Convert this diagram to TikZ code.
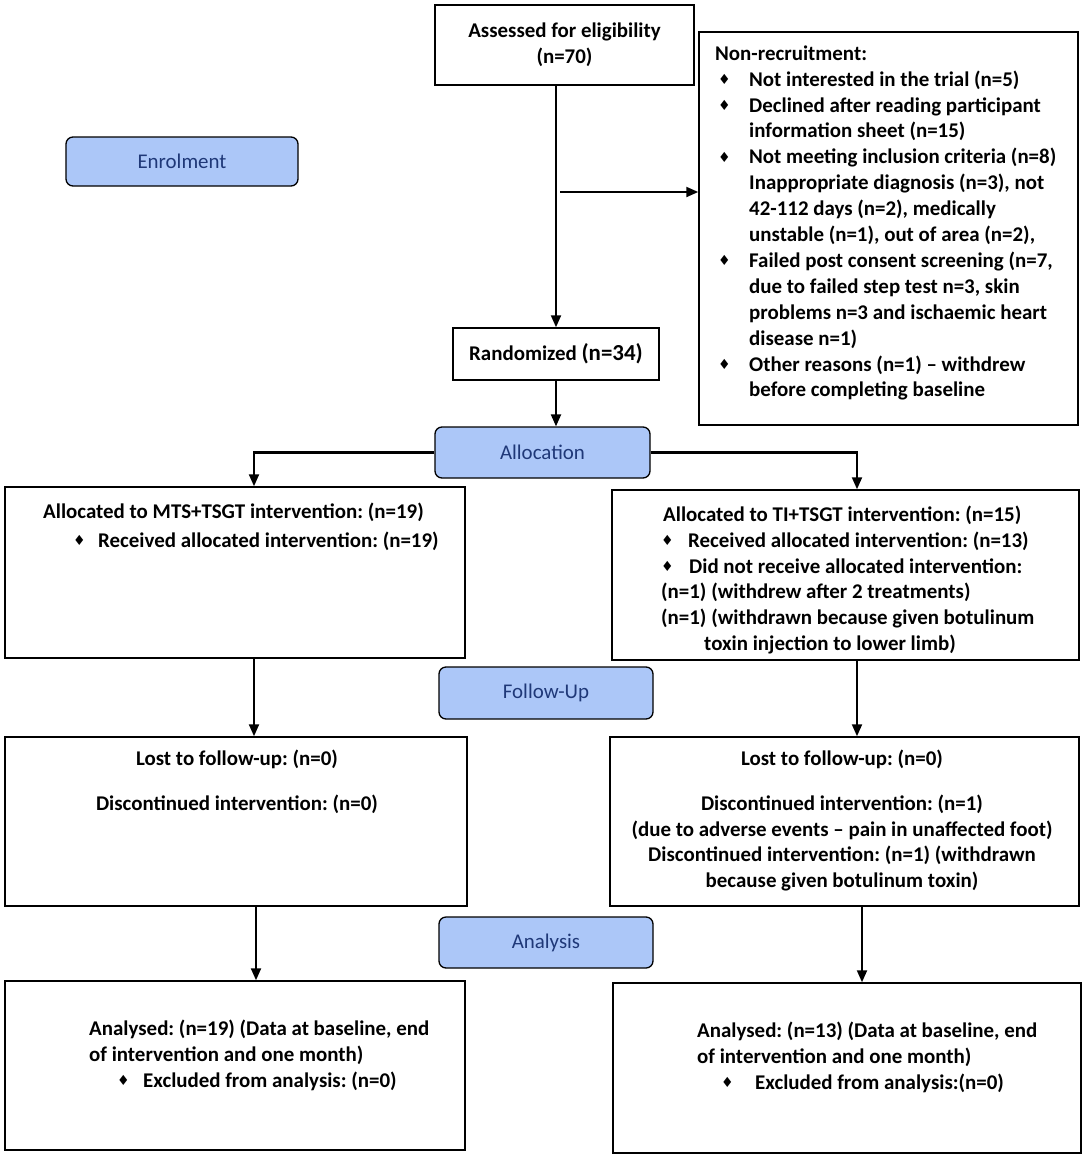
\documentclass[tikz,border=0pt]{standalone}
\usepackage{fontspec}
\setmainfont{Carlito}
\newfontfamily\dejavu{DejaVu Sans}
\usetikzlibrary{arrows.meta}
\definecolor{stagefill}{RGB}{172,199,248}
\definecolor{stagetext}{RGB}{31,56,120}
\newcommand\bul{\raisebox{1.5bp}{\dejavu\fontsize{14}{14}\selectfont ♦}}
\newcommand\fst{\rule{0pt}{16bp}}
\frenchspacing
\begin{document}
\begin{tikzpicture}[x=1bp,y=-1bp,
  box/.style={draw=black, line width=1.5bp, fill=white, inner sep=0pt},
  stage/.style={draw=black, line width=1.3bp, rounded corners=7bp, fill=stagefill,
    text=stagetext, font=\fontsize{21}{26}\selectfont, inner sep=0pt},
  txt/.style={font=\bfseries\fontsize{21}{26}\selectfont, inner sep=0pt},
  arr/.style={-{Triangle[length=12bp,width=10bp]}, line width=2.1bp}]
\useasboundingbox (0,0) rectangle (1084,1156);

% boxes
\node[box, minimum width=259bp, minimum height=80bp, txt, align=center] (assess) at (564.5,45)
  {Assessed for eligibility\\(n=70)};
\node[box, minimum width=379bp, minimum height=393bp] (nonrec) at (888.5,228.5) {};
\node[box, minimum width=206bp, minimum height=52bp, txt] (rand) at (556,354)
  {Randomized {\fontsize{23}{26}\selectfont(n=34)}};
\node[box, minimum width=460bp, minimum height=171bp] (b1L) at (235,572.5) {};
\node[box, minimum width=467bp, minimum height=170bp] (b1R) at (845.5,575) {};
\node[box, minimum width=462bp, minimum height=169bp] (b2L) at (236,821.5) {};
\node[box, minimum width=469bp, minimum height=169bp] (b2R) at (844.5,821.5) {};
\node[box, minimum width=460bp, minimum height=169bp] (b3L) at (235,1065.5) {};
\node[box, minimum width=468bp, minimum height=170bp] (b3R) at (847,1068) {};

% stage labels
\node[stage, minimum width=232bp, minimum height=49bp] (enrol) at (182,161.5) {Enrolment};
\node[stage, minimum width=215bp, minimum height=51bp] (alloc) at (542.5,452.5) {Allocation};
\node[stage, minimum width=214bp, minimum height=52bp] (follow) at (546,693) {Follow-Up};
\node[stage, minimum width=214bp, minimum height=51bp] (analysis) at (546,942.5) {Analysis};

% texts
\node[txt, anchor=north west, align=left] (nrtext) at (715,44) {\fst Non-recruitment:\\
\hspace*{3bp}\makebox[31bp][l]{\bul}Not interested in the trial (n=5)\\
\hspace*{3bp}\makebox[31bp][l]{\bul}Declined after reading participant\\
\hspace*{34bp}information sheet (n=15)\\
\hspace*{3bp}\makebox[31bp][l]{\bul}Not meeting inclusion criteria (n=8)\\
\hspace*{34bp}Inappropriate diagnosis (n=3), not\\
\hspace*{34bp}42-112 days (n=2), medically\\
\hspace*{34bp}unstable (n=1), out of area (n=2),\\
\hspace*{3bp}\makebox[31bp][l]{\bul}Failed post consent screening (n=7,\\
\hspace*{34bp}due to failed step test n=3, skin\\
\hspace*{34bp}problems n=3 and ischaemic heart\\
\hspace*{34bp}disease n=1)\\
\hspace*{3bp}\makebox[31bp][l]{\bul}Other reasons (n=1) – withdrew\\
\hspace*{34bp}before completing baseline};

\node[txt, anchor=north west, align=left] (t1L) at (43,502) {\fst Allocated to MTS+TSGT intervention: (n=19)\\[3bp]
\hspace*{30bp}\makebox[25bp][l]{\bul}Received allocated intervention: (n=19)};

\node[txt, anchor=north west, align=left] (t1R) at (661,505) {\fst\hspace*{2bp}Allocated to TI+TSGT intervention: (n=15)\\
\makebox[27bp][l]{\bul}Received allocated intervention: (n=13)\\
\makebox[28bp][l]{\bul}Did not receive allocated intervention:\\
(n=1) (withdrew after 2 treatments)\\
(n=1) (withdrawn because given botulinum\\
\hspace*{43bp}toxin injection to lower limb)};

\node[txt, anchor=north, align=center] (t2L) at (237,749) {\fst Lost to follow-up: (n=0)\\[19bp]
Discontinued intervention: (n=0)};

\node[txt, anchor=north, align=center] (t2R) at (842,749) {\fst Lost to follow-up: (n=0)\\[19bp]
Discontinued intervention: (n=1)\\
(due to adverse events – pain in unaffected foot)\\
Discontinued intervention: (n=1) (withdrawn\\
because given botulinum toxin)};

\node[txt, anchor=north west, align=left] (t3L) at (89,1019) {\fst Analysed: (n=19) (Data at baseline, end\\
of intervention and one month)\\
\hspace*{28bp}\makebox[26bp][l]{\bul}Excluded from analysis: (n=0)};

\node[txt, anchor=north west, align=left] (t3R) at (697,1021) {\fst Analysed: (n=13) (Data at baseline, end\\
of intervention and one month)\\
\hspace*{24bp}\makebox[34bp][l]{\bul}Excluded from analysis:(n=0)};

% connectors
\draw[arr] (rand.north |- assess.south) -- (rand.north);
\coordinate (split) at (560,192);
\draw[arr] (split) -- (split -| nonrec.west);
\draw[arr] (rand.south) -- (rand.south |- alloc.north);
\coordinate (lA) at ([xshift=19bp]b1L.north);
\coordinate (rA) at ([xshift=11.5bp]b1R.north);
\draw[arr] (alloc.west) -| (lA);
\draw[arr] (alloc.east) -| (rA);
\coordinate (lB) at ([xshift=19bp]b1L.south);
\coordinate (rB) at ([xshift=11.5bp]b1R.south);
\draw[arr] (lB) -- (lB |- b2L.north);
\draw[arr] (rB) -- (rB |- b2R.north);
\coordinate (lC) at ([xshift=20bp]b2L.south);
\coordinate (rC) at ([xshift=17.5bp]b2R.south);
\draw[arr] (lC) -- (lC |- b3L.north);
\draw[arr] (rC) -- (rC |- b3R.north);
\end{tikzpicture}
\end{document}
